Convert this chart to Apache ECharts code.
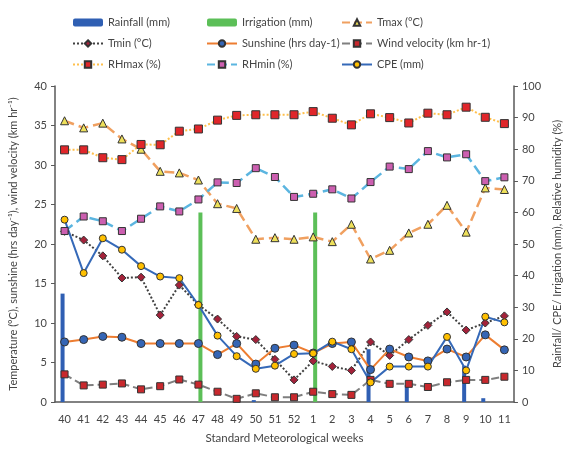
<!DOCTYPE html>
<html>
<head>
<meta charset="utf-8">
<script src="https://cdn.jsdelivr.net/npm/echarts@6/dist/echarts.min.js"></script>
<style>
  body { margin: 0; background: #fff; }
  #main { width: 571px; height: 449px; }
</style>
</head>
<body>
<div id="main"></div>
<script>
    var weeks = ['40','41','42','43','44','45','46','47','48','49','50','51','52','1','2','3','4','5','6','7','8','9','10','11'];

    // mm (right axis)
    var rainfall   = [34.3,0,0,0,0,0,0,0,0,0,0.6,0,0,0,0,0,16.7,0,5.4,0,0,11.5,1.2,0];
    var irrigation = [0,0,0,0,0,0,0,60,0,0,0,0,0,60,0,0,0,0,0,0,0,0,0,0];
    var cpe        = [57.7,40.8,51.8,48.2,43.0,39.7,39.2,30.7,21.0,14.5,10.5,11.5,15.2,15.4,19.1,16.7,6.2,11.2,11.2,11.2,20.6,10.0,27.0,25.2];
    // % (right axis)
    var rhmax = [79.8,79.8,77.3,76.7,81.5,81.4,85.7,86.4,89.2,90.7,90.9,90.9,90.9,91.9,89.8,87.7,91.2,90.0,88.3,91.4,90.9,93.3,90.1,88.1];
    var rhmin = [54.1,58.7,57.2,54.1,58.0,61.9,60.3,64.1,69.5,69.3,74.0,71.2,64.9,65.9,67.3,64.4,69.6,74.5,73.7,79.4,77.4,78.4,69.9,71.1];
    // left axis
    var tmax     = [35.6,34.7,35.3,33.3,32.0,29.2,29.0,28.1,25.1,24.5,20.6,20.8,20.6,20.9,20.3,22.5,18.1,19.2,21.4,22.5,24.9,21.5,27.1,26.9];
    var tmin     = [21.6,20.5,18.5,15.7,15.8,11.0,14.8,12.3,10.5,8.3,7.9,5.4,2.8,5.2,4.5,4.0,7.6,5.9,7.9,9.7,11.4,9.1,10.0,10.9];
    var sunshine = [7.6,7.9,8.3,8.2,7.4,7.4,7.4,7.4,6.0,7.4,4.8,6.8,7.2,6.2,7.4,7.6,4.1,6.7,5.7,5.2,6.7,5.7,8.5,6.6];
    var wind     = [3.5,2.1,2.2,2.35,1.6,2.0,2.85,2.2,1.3,0.4,1.1,0.6,0.6,1.3,1.0,0.9,2.8,2.3,2.3,1.9,2.5,2.8,2.8,3.2];

    var txt = '#454545';
    var font = 'Lato, sans-serif';

    function lineSeries(name, data, axis, lineColor, lineType, width, symbol, symColor, size) {
        return {
            name: name, type: 'line', data: data, yAxisIndex: axis,
            symbol: symbol, symbolSize: size,
            lineStyle: { color: lineColor, type: lineType, width: width },
            itemStyle: { color: symColor, borderColor: '#333', borderWidth: 1 }
        };
    }

    function legendCol(x, names) {
        return {
            orient: 'vertical', left: x, top: 12, itemWidth: 30, itemHeight: 8, itemGap: 10,
            data: names,
            textStyle: { color: txt, fontSize: 11, fontFamily: font }
        };
    }

    var option = {
        animation: false,
        backgroundColor: '#fff',
        legend: [
            legendCol(67, ['Rainfall (mm)', 'Tmin (°C)', 'RHmax (%)']),
            legendCol(201, ['Irrigation (mm)', 'Sunshine (hrs day-1)', 'RHmin (%)']),
            legendCol(336, ['Tmax (°C)', 'Wind velocity (km hr-1)', 'CPE (mm)'])
        ],
        grid: { left: 54, right: 44, top: 86, bottom: 40 },
        xAxis: {
            type: 'category', data: weeks, boundaryGap: true,
            name: 'Standard Meteorological weeks', nameLocation: 'middle', nameGap: 30,
            nameTextStyle: { color: txt, fontSize: 11.5, fontFamily: font },
            axisLine: { lineStyle: { color: '#595959', width: 1.5 } },
            axisTick: { show: false },
            axisLabel: { color: txt, fontSize: 11, fontFamily: font, interval: 0, margin: 12 }
        },
        yAxis: [
            {
                type: 'value', min: 0, max: 40, interval: 5,
                name: 'Temperature (°C), sunshine (hrs day⁻¹), wind velocity (km hr⁻¹)',
                nameLocation: 'middle', nameGap: 36,
                nameTextStyle: { color: txt, fontSize: 11, fontFamily: font },
                axisLine: { show: true, lineStyle: { color: '#595959', width: 1.5 } },
                axisTick: { show: true, length: 4 },
                axisLabel: { color: txt, fontSize: 11, fontFamily: font },
                splitLine: { show: false }
            },
            {
                type: 'value', min: 0, max: 100, interval: 10,
                name: 'Rainfall/ CPE/ Irrigation (mm), Relative humidity (%)',
                nameLocation: 'middle', nameGap: 36, nameRotate: 90,
                nameTextStyle: { color: txt, fontSize: 11, fontFamily: font },
                axisLine: { show: true, lineStyle: { color: '#595959', width: 1.5 } },
                axisTick: { show: true, length: 4 },
                axisLabel: { color: txt, fontSize: 11, fontFamily: font },
                splitLine: { show: false }
            }
        ],
        series: [
            { name: 'Rainfall (mm)', type: 'bar', yAxisIndex: 1, data: rainfall, barWidth: 4, barGap: '0%',
              itemStyle: { color: '#2f5fb3' } },
            { name: 'Irrigation (mm)', type: 'bar', yAxisIndex: 1, data: irrigation, barWidth: 4, barGap: '0%',
              itemStyle: { color: '#5cbf58' } },
            lineSeries('Tmax (°C)', tmax, 0, '#f0a060', 'dashed', 2.5, 'triangle', '#eee05a', 8),
            lineSeries('Tmin (°C)', tmin, 0, '#404040', 'dotted', 2, 'diamond', '#a3223a', 8),
            lineSeries('Sunshine (hrs day-1)', sunshine, 0, '#ed7d31', 'solid', 2, 'circle', '#3565b5', 8),
            lineSeries('Wind velocity (km hr-1)', wind, 0, '#7f7f7f', 'dashed', 2, 'rect', '#c8282d', 7),
            lineSeries('RHmax (%)', rhmax, 1, '#ffc04d', 'dotted', 2, 'rect', '#e0262a', 8),
            lineSeries('RHmin (%)', rhmin, 1, '#5bb5e0', 'dashed', 2.5, 'rect', '#cc5fb0', 7),
            lineSeries('CPE (mm)', cpe, 1, '#3569b8', 'solid', 2, 'circle', '#ffc000', 7)
        ]
    };

    var chart = echarts.init(document.getElementById('main'));
    chart.setOption(option);
</script>
</body>
</html>
